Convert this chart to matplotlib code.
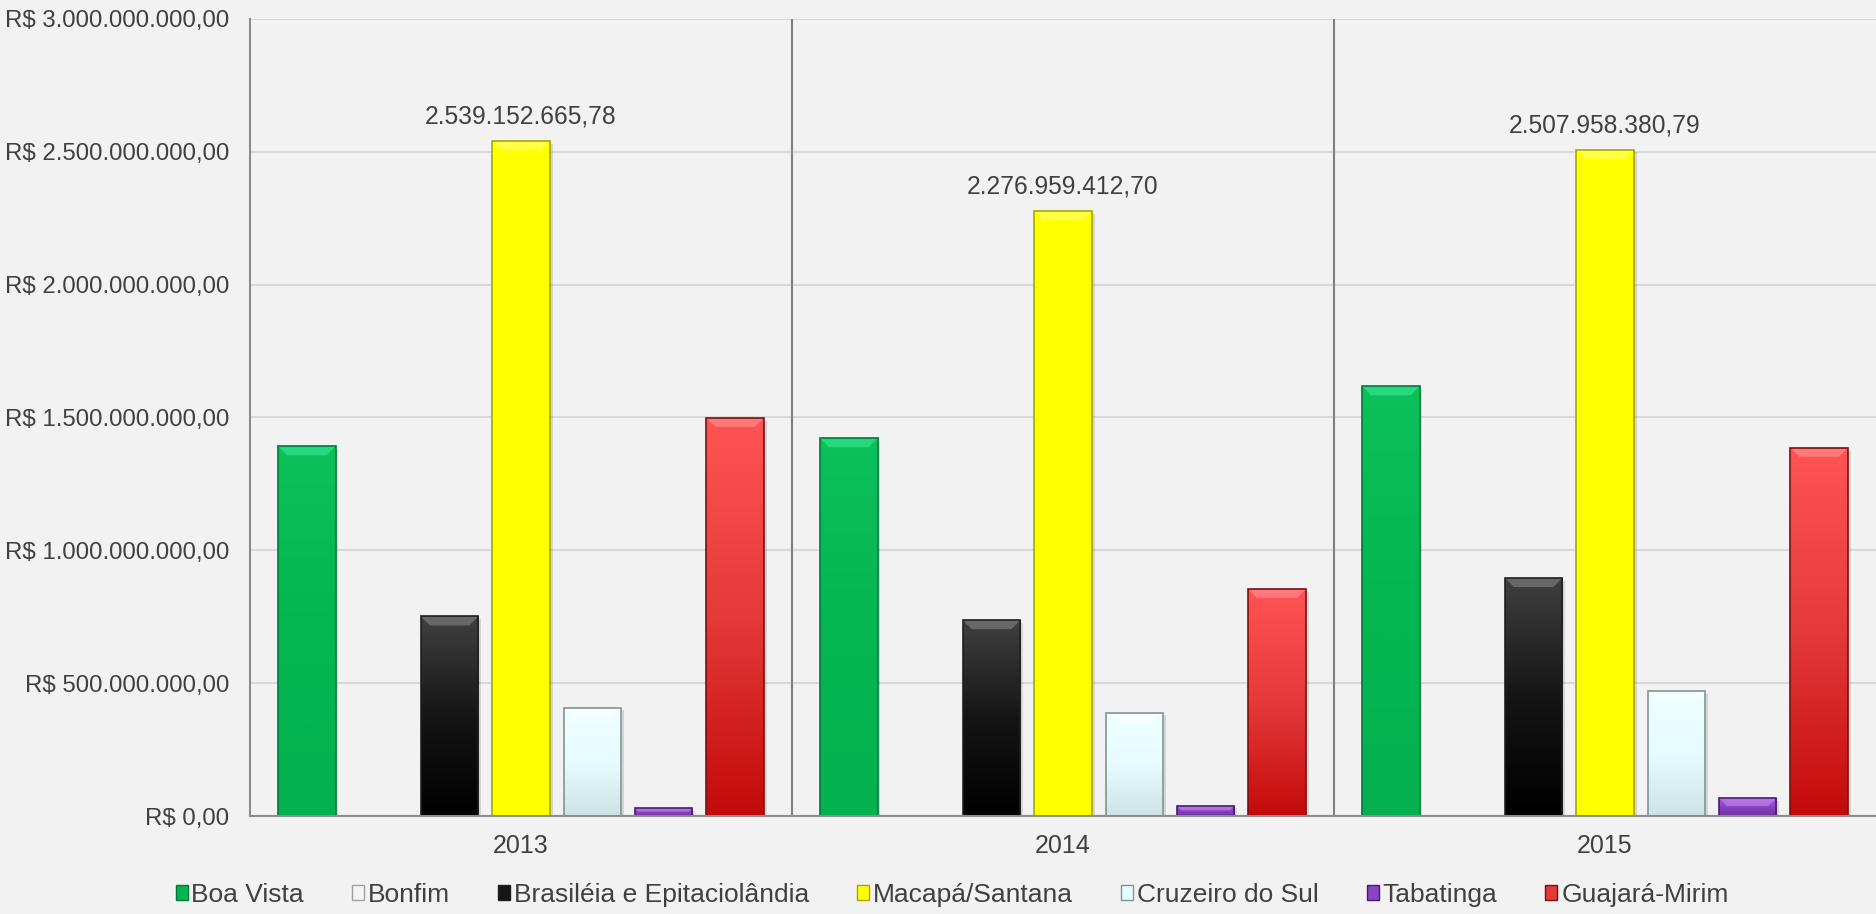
import numpy as np
import matplotlib
matplotlib.use('Agg')
import matplotlib.pyplot as plt
import matplotlib.patheffects as pe
from matplotlib.colors import LinearSegmentedColormap
from matplotlib.patches import Polygon, Rectangle

plt.rcParams['font.family'] = ['Liberation Sans', 'DejaVu Sans']

anos = ['2013', '2014', '2015']
cidades = ['Boa Vista', 'Bonfim', 'Brasiléia e Epitaciolândia', 'Macapá/Santana',
           'Cruzeiro do Sul', 'Tabatinga', 'Guajará-Mirim']
boa_vista = [1.392e9, 1.422e9, 1.617e9]
bonfim = [0, 0, 0]
brasileia = [0.751e9, 0.737e9, 0.896e9]
macapa = [2539152665.78, 2276959412.70, 2507958380.79]
cruzeiro = [0.408e9, 0.389e9, 0.471e9]
tabatinga = [0.031e9, 0.039e9, 0.068e9]
guajara = [1.499e9, 0.854e9, 1.386e9]
valores = [boa_vista, bonfim, brasileia, macapa, cruzeiro, tabatinga, guajara]

# cores: (topo, meio, base), borda, bisel
cores = [
    (['#0cc05a', '#04b652', '#04b050'], '#007a38', '#3df09a'),
    (['#ffffff', '#f4f4f4', '#d8d8d8'], '#a0a0a0', '#ffffff'),
    (['#404040', '#151515', '#000000'], '#202020', '#8a8a8a'),
    (['#ffff00', '#ffff00', '#ffff00'], '#a8a800', '#ffff80'),
    (['#f0ffff', '#e6fcfe', '#cde3e5'], '#7f9595', '#ffffff'),
    (['#a860e0', '#8a44c4', '#7030a0'], '#4a1a70', '#c890f0'),
    (['#ff5454', '#e43a3a', '#c40a0a'], '#7a1010', '#ff9a9a'),
]

texto_cor = '#404040'
fundo = '#f2f2f2'


def brl(v):
    s = f'{v:,.2f}'
    return s.replace(',', 'X').replace('.', ',').replace('X', '.')


fig = plt.figure(figsize=(18.76, 9.14), dpi=100, facecolor=fundo)
ax = fig.add_axes([250 / 1876, 98 / 914, 1626 / 1876, 797 / 914])
ax.set_facecolor(fundo)
ax.set_xlim(-0.5, 2.5)
ax.set_ylim(0, 3e9)

ext = ax.get_window_extent()
px_x = 3.0 / ext.width
px_y = 3e9 / ext.height

x = np.arange(len(anos))
passo = 0.1317
largura = 0.106
grad = np.linspace(0, 1, 256).reshape(-1, 1)

for i, serie in enumerate(valores):
    (topo, meio, base), borda, bisel = cores[i]
    cmap = LinearSegmentedColormap.from_list('c%d' % i, [topo, meio, base])
    barras = ax.bar(x + (i - 3) * passo, serie, largura, color=meio, edgecolor='none',
                    zorder=3, path_effects=[pe.SimplePatchShadow(offset=(2, -2), shadow_rgbFace='#000000', alpha=0.12),
                                            pe.Normal()])
    for b in barras:
        h = b.get_height()
        if h <= 0:
            continue
        x0 = b.get_x()
        w = b.get_width()
        im = ax.imshow(grad, extent=[x0, x0 + w, 0, h], origin='upper', aspect='auto',
                       cmap=cmap, zorder=3.1, interpolation='bilinear')
        im.set_clip_path(b)
        bp = min(9, 0.45 * h / px_y)
        ax.add_patch(Polygon([(x0, h), (x0 + w, h), (x0 + w - bp * px_x, h - bp * px_y),
                              (x0 + bp * px_x, h - bp * px_y)], closed=True,
                             facecolor=bisel, edgecolor='none', alpha=0.55, zorder=3.2))
        ax.add_patch(Rectangle((x0, 0), w, h, fill=False, edgecolor=borda, lw=1.2, zorder=3.3))

for xi, v in zip(x + 0 * passo, macapa):
    ax.annotate(brl(v), (xi, v), xytext=(0, 9), textcoords='offset points',
                ha='center', va='bottom', fontsize=17.7, color=texto_cor)

ax.set_xlim(-0.5, 2.5)
ax.set_ylim(0, 3e9)

ax.set_yticks(np.arange(0, 3.01e9, 5e8))
ax.set_yticklabels(['R$ ' + brl(v) for v in np.arange(0, 3.01e9, 5e8)])
ax.set_xticks(x)
ax.set_xticklabels(anos)
ax.yaxis.grid(True, color='#d9d9d9', lw=1.5)
ax.set_axisbelow(True)
ax.tick_params(axis='y', length=0, pad=15, labelsize=17.3, colors=texto_cor)
ax.tick_params(axis='x', length=0, pad=13, labelsize=18, colors=texto_cor)

for lado in ['top', 'right']:
    ax.spines[lado].set_visible(False)
for lado in ['left', 'bottom']:
    ax.spines[lado].set_color('#8c8c8c')
    ax.spines[lado].set_linewidth(1.5)
    ax.spines[lado].set_zorder(4)
for sep in [0.5, 1.5]:
    ax.axvline(sep, color='#808080', lw=1.5, zorder=2)

alcas = [Rectangle((0, 0), 1, 1, facecolor=c[0][1], edgecolor=c[1], lw=1) for c in cores]
fig.legend(alcas, cidades, loc='center', bbox_to_anchor=(0.5075, 0.0208), ncol=7,
           frameon=False, fontsize=19, handlelength=0.45, handleheight=0.45,
           handletextpad=0.15, columnspacing=1.82, labelcolor=texto_cor)

fig.savefig('out.png', dpi=100, facecolor=fundo)
